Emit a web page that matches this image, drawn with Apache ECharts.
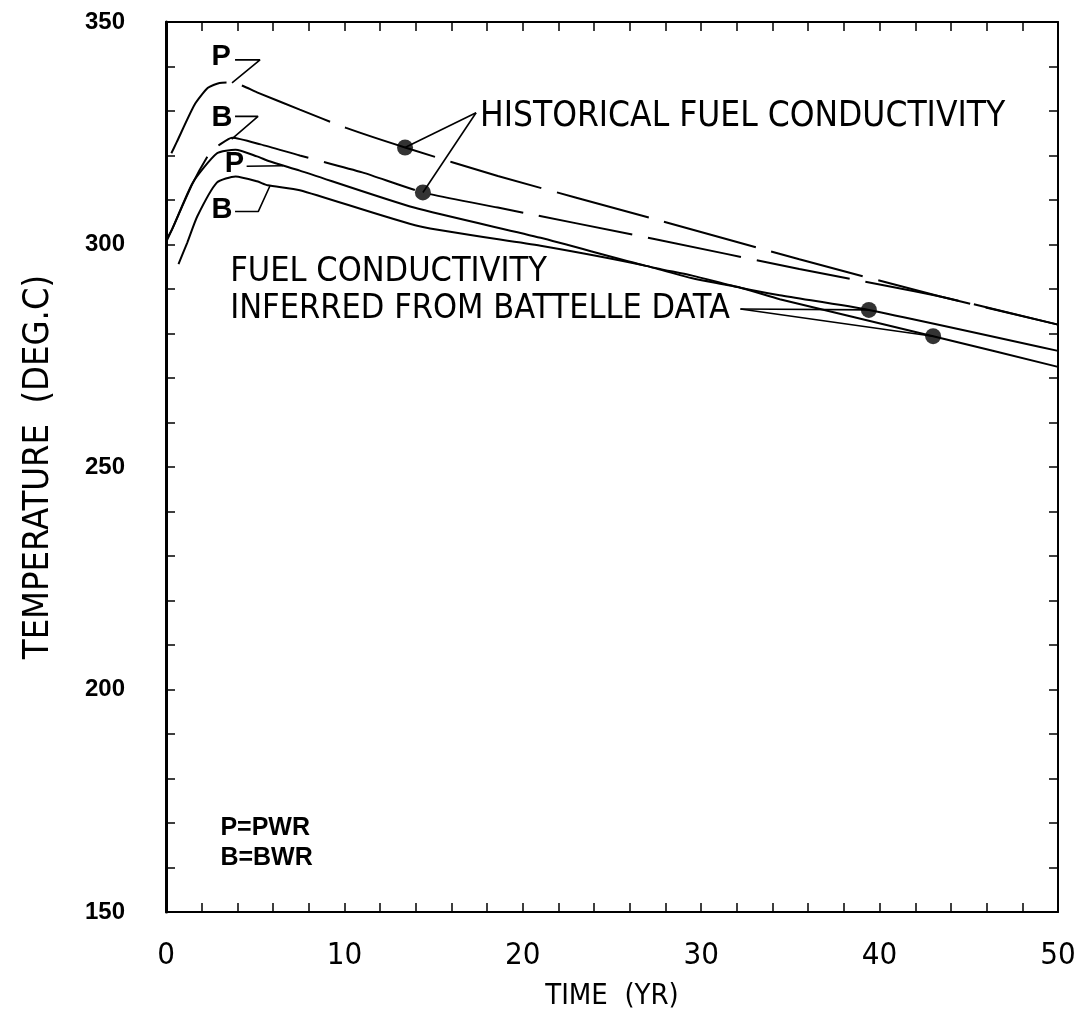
<!DOCTYPE html>
<html>
<head>
<meta charset="utf-8">
<title>Fuel temperature vs time</title>
<script src="https://cdn.jsdelivr.net/npm/echarts@6/dist/echarts.min.js"></script>
<style>
  html, body { margin: 0; padding: 0; background: #fff; }
  #chart { width: 1081px; height: 1016px; }
</style>
</head>
<body>
<div id="chart"></div>
<script>
// ---- data: time (yr) and temperature (deg C) ----
const pwrHistTime = [0.3, 0.6, 1.6, 2.35, 3.0, 3.7, 5.1, 7.5, 10.1, 13.4, 18.6, 27.3, 35.5, 43.4, 50];
const pwrHistTemp = [320.5, 323, 331.4, 335.2, 336.3, 336.4, 334.2, 330.3, 326.2, 321.8, 315.4, 305.8, 296.7, 288.3, 282];

const bwrHistTime = [0.0, 0.35, 1.5, 2.47, 3.03, 3.7, 5.3, 7.5, 11.0, 14.4, 18.6, 27.3, 35.5, 43.4, 50];
const bwrHistTemp = [300.5, 303.5, 313.8, 320.7, 322.5, 324, 322.5, 320, 316.2, 311.7, 308.3, 301.3, 294.5, 288.3, 282];

const pwrBatTime = [0.0, 0.34, 1.5, 2.86, 3.9, 5.1, 5.8, 7.5, 13.9, 21, 26.9, 29.5, 32.2, 34.4, 39.4, 50];
const pwrBatTemp = [301, 303.4, 313.9, 320.5, 321.3, 319.8, 318.7, 316.6, 308.3, 301.5, 295.2, 293.0, 290.3, 288.6, 285.3, 276.1];

const bwrBatTime = [0.7, 1.2, 1.75, 2.85, 3.9, 5.1, 5.7, 7.5, 14.2, 21, 26.9, 29.5, 32.2, 34.4, 43, 50];
const bwrBatTemp = [295.6, 300.5, 306.3, 313.9, 315.3, 314.2, 313.3, 312.2, 304.1, 299.7, 295.2, 292.4, 290.3, 287.7, 279.4, 272.5];

// marked points on the curves
const dotTime = [13.4, 14.4, 39.4, 43.0];
const dotTemp = [321.8, 311.7, 285.3, 279.4];

// axis ticks
const xTicks = [0, 10, 20, 30, 40, 50];
const yTicks = [150, 200, 250, 300, 350];

// leader lines for the annotations (time, temperature)
const leaderPwrHist = [[3.87, 341.5], [5.27, 341.5], [3.7, 336.3]];
const leaderBwrHist = [[3.87, 328.8], [5.16, 328.8], [3.68, 323.7]];
const leaderPwrBat  = [[4.52, 317.6], [6.56, 317.7]];
const leaderBwrBat  = [[3.87, 307.4], [5.17, 307.4], [5.83, 313.2]];
const leaderHistA   = [[17.38, 329.6], [13.4, 321.8]];
const leaderHistB   = [[17.38, 329.6], [14.4, 311.7]];
const leaderBatA    = [[32.2, 285.5], [39.4, 285.3]];
const leaderBatB    = [[32.2, 285.5], [43.0, 279.4]];

// annotation texts (anchored at their left/middle point, in data units)
const notes = [
  { text: 'HISTORICAL FUEL CONDUCTIVITY', t: 17.6, T: 328.6, size: 35 },
  { text: 'FUEL CONDUCTIVITY',            t: 3.6,  T: 293.8, size: 34 },
  { text: 'INFERRED FROM BATTELLE DATA',  t: 3.6,  T: 285.5, size: 34 },
  { text: 'P=PWR', t: 3.05, T: 168.8, size: 25, bold: true },
  { text: 'B=BWR', t: 3.05, T: 162.1, size: 25, bold: true },
  { text: 'P', t: 2.55, T: 342.2, size: 29, bold: true },
  { text: 'B', t: 2.55, T: 328.5, size: 29, bold: true },
  { text: 'P', t: 3.3,  T: 318.2, size: 29, bold: true },
  { text: 'B', t: 2.55, T: 307.7, size: 29, bold: true }
];

const pairs = (xs, ys) => xs.map((x, i) => [x, ys[i]]);
const plotFont = "'Liberation Sans Narrow', 'DejaVu Sans Condensed', 'Liberation Sans', sans-serif";
const boldFont = "'Liberation Sans', Arial, sans-serif";

const chart = echarts.init(document.getElementById('chart'), null, { renderer: 'canvas' });

const curveStyle = (type) => ({ color: '#000', width: 2, type: type });
const leaderSeries = (pts) => ({
  type: 'line', data: pts, symbol: 'none', silent: true, animation: false,
  lineStyle: { color: '#000', width: 1.6 }, z: 3
});

// shared frame settings: ticks point into the plot on all four sides
const frameLine = { show: true, onZero: false, lineStyle: { color: '#000', width: 2 } };
const tickIn = { show: true, inside: true, length: 9, lineStyle: { color: '#000', width: 1.5 } };
const minorIn = { show: true, splitNumber: 5, length: 9, lineStyle: { color: '#000', width: 1.5 } };

const option = {
  backgroundColor: '#fff',
  animation: false,
  grid: { left: 166, right: 23, top: 22, bottom: 101 },
  xAxis: [
    {
      type: 'value', min: 0, max: 50, interval: 10, position: 'bottom',
      name: 'TIME  (YR)', nameLocation: 'middle', nameGap: 70,
      nameTextStyle: { fontFamily: plotFont, fontSize: 29, color: '#000' },
      axisLine: frameLine, axisTick: tickIn, minorTick: minorIn,
      splitLine: { show: false },
      axisLabel: {
        margin: 28, color: '#000', fontFamily: plotFont, fontSize: 31,
        formatter: (v) => (xTicks.indexOf(v) >= 0 ? String(v) : '')
      }
    },
    {
      type: 'value', min: 0, max: 50, interval: 10, position: 'top',
      axisLine: frameLine, axisTick: tickIn, minorTick: minorIn,
      splitLine: { show: false }, axisLabel: { show: false }
    }
  ],
  yAxis: [
    {
      type: 'value', min: 150, max: 350, interval: 50, position: 'left',
      name: 'TEMPERATURE  (DEG.C)', nameLocation: 'middle', nameGap: 109, nameRotate: 90,
      nameTextStyle: { fontFamily: plotFont, fontSize: 36, color: '#000' },
      axisLine: { show: true, onZero: false, lineStyle: { color: '#000', width: 3 } },
      axisTick: tickIn, minorTick: minorIn,
      splitLine: { show: false },
      axisLabel: {
        margin: 41, color: '#000', fontFamily: boldFont,
        fontWeight: 'bold', fontSize: 24,
        formatter: (v) => (yTicks.indexOf(v) >= 0 ? String(v) : '')
      }
    },
    {
      type: 'value', min: 150, max: 350, interval: 50, position: 'right',
      axisLine: frameLine, axisTick: tickIn, minorTick: minorIn,
      splitLine: { show: false }, axisLabel: { show: false }
    }
  ],
  series: [
    { name: 'PWR historical', type: 'line', data: pairs(pwrHistTime, pwrHistTemp), symbol: 'none',
      smooth: 0.2, lineStyle: curveStyle([95, 16]), z: 2 },
    { name: 'BWR historical', type: 'line', data: pairs(bwrHistTime, bwrHistTemp), symbol: 'none',
      smooth: 0.2, lineStyle: curveStyle([95, 16]), z: 2 },
    { name: 'PWR Battelle', type: 'line', data: pairs(pwrBatTime, pwrBatTemp), symbol: 'none',
      smooth: 0.2, lineStyle: curveStyle('solid'), z: 2 },
    { name: 'BWR Battelle', type: 'line', data: pairs(bwrBatTime, bwrBatTemp), symbol: 'none',
      smooth: 0.2, lineStyle: curveStyle('solid'), z: 2 },
    leaderSeries(leaderPwrHist),
    leaderSeries(leaderBwrHist),
    leaderSeries(leaderPwrBat),
    leaderSeries(leaderBwrBat),
    leaderSeries(leaderHistA),
    leaderSeries(leaderHistB),
    leaderSeries(leaderBatA),
    leaderSeries(leaderBatB),
    { name: 'points', type: 'scatter', data: pairs(dotTime, dotTemp), symbol: 'circle',
      symbolSize: 16, itemStyle: { color: '#000' }, z: 5 }
  ]
};

chart.setOption(option);

// place annotation texts using the chart's own coordinate conversion
const graphics = notes.map((n) => {
  const p = chart.convertToPixel({ gridIndex: 0 }, [n.t, n.T]);
  return {
    type: 'text', x: p[0], y: p[1], z: 10,
    style: {
      text: n.text, fill: '#000',
      font: (n.bold ? 'bold ' : '') + n.size + 'px ' + (n.bold ? boldFont : plotFont),
      textAlign: 'left', textVerticalAlign: 'middle'
    }
  };
});
chart.setOption({ graphic: graphics });
</script>
</body>
</html>
